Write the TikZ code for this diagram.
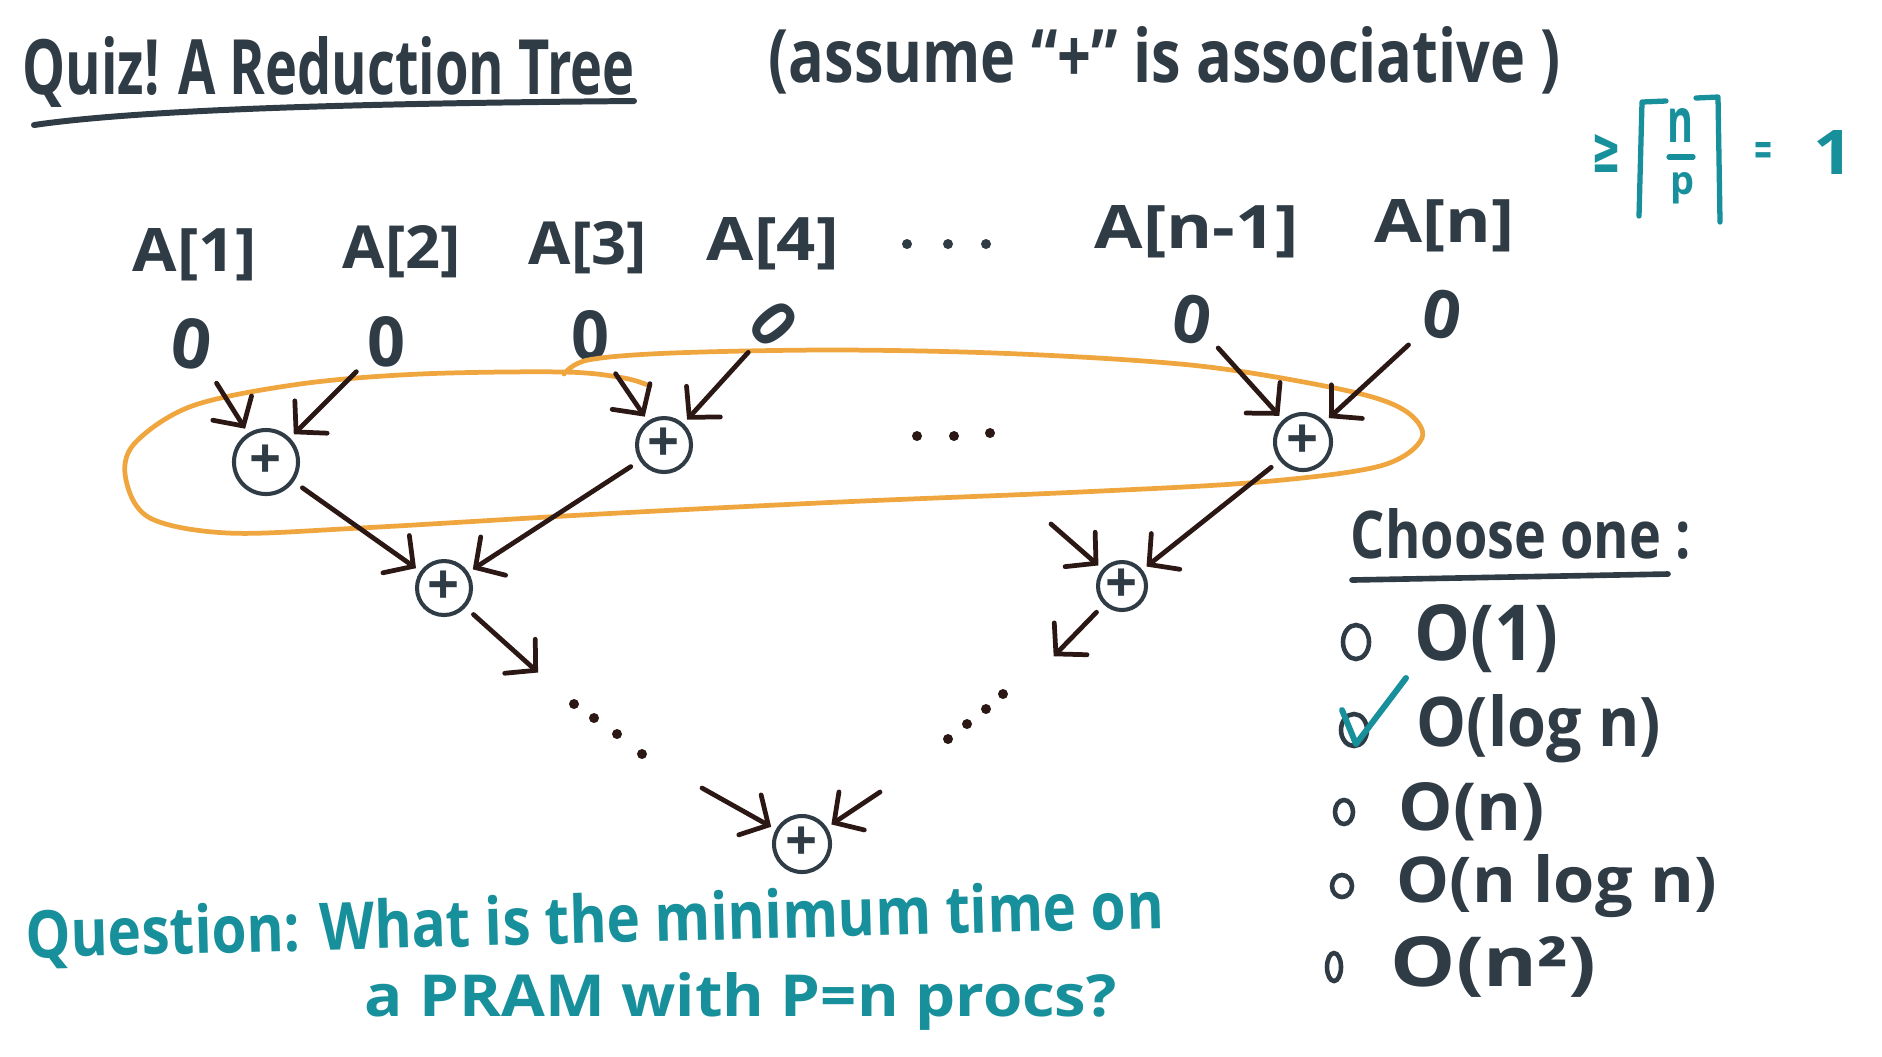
\documentclass[tikz,border=0pt]{standalone}
\usepackage{fontspec}
\setmainfont{Open Sans}
\newfontfamily\djv{DejaVu Sans}
\usepackage{graphicx}
\usetikzlibrary{arrows.meta}
\newlength\px \setlength\px{0.01cm}
\newcommand\hw[3]{\resizebox{#1\px}{#2\px}{#3}}
\definecolor{inkc}{HTML}{2F3B45}
\definecolor{arrc}{HTML}{2B1815}
\definecolor{orng}{HTML}{F0A63E}
\definecolor{tealc}{HTML}{17909C}
\tikzset{
  ink/.style={draw=inkc, line width=1.3pt, line cap=round, line join=round},
  tealline/.style={draw=tealc, line width=1.5pt, line cap=round, line join=round},
  arr/.style={draw=arrc, line width=1.35pt, line cap=round,
    -{Straight Barb[length=6pt,width=13pt,line cap=round]}},
  fromleaf/.style={arr, shorten <=4pt, shorten >=1.5pt},
  fromplus/.style={arr, shorten <=3pt, shorten >=1.5pt},
  txt/.style={inner sep=0pt, anchor=base west, text=inkc, font=\bfseries},
  tealtxt/.style={inner sep=0pt, anchor=base west, text=tealc, font=\bfseries},
  tealsym/.style={inner sep=0pt, anchor=base, text=tealc, font=\bfseries},
  leaf/.style={inner sep=0pt, text=inkc, font=\bfseries},
  plusnode/.style={circle, draw=inkc, line width=1.15pt, inner sep=0pt,
    text=inkc, font=\bfseries\fontsize{16}{16}\selectfont},
  loop/.style={draw=orng, line width=1.35pt, line cap=round},
  bullet/.style={draw=inkc, line width=1.3pt}
}
\begin{document}
\begin{tikzpicture}[x=0.01cm,y=-0.01cm]
\path[use as bounding box, fill=white] (0,0) rectangle (1882,1056);

% title and header
\node[txt] (title) at (22,94) {\hw{612}{58}{Quiz! A Reduction Tree}};
\draw[ink, line width=1.7pt] (34,125) .. controls (150,108) and (400,103) .. (634,101);
\node[txt] (assume) at (768,82) {\hw{792}{56}{(assume “+” is associative )}};

% teal formula
\node[inner sep=0pt, anchor=base, text=tealc, font=\djv\bfseries] (geq) at (1606,172) {\hw{30}{38}{≥}};
\draw[tealline] (1666,101) -- (1642,102) -- (1639,216);
\draw[tealline] (1696,98) -- (1718,97) -- (1720,222);
\node[tealsym] (nn) at (1680,142) {\hw{26}{34}{n}};
\draw[tealline] (1669,157) -- (1693,157);
\node[tealsym] (pp) at (1682,194) {\hw{24}{22}{p}};
\node[inner sep=0pt, anchor=base, text=tealc, font=\djv\bfseries] (eq) at (1763,164) {\hw{20}{22}{=}};
\node[tealsym] (one) at (1833,174) {\hw{40}{44}{1}};

% array labels
\node[txt] (a1) at (132,271) {\hw{124}{43}{A[1]}};
\node[txt] (a2) at (342,268) {\hw{118}{43}{A[2]}};
\node[txt] (a3) at (528,264) {\hw{118}{43}{A[3]}};
\node[txt] (a4) at (706,260) {\hw{132}{43}{A[4]}};
\foreach \x in {907,948,986} \fill[inkc] (\x,244) circle[radius=0.05cm];
\node[txt] (an1) at (1094,248) {\hw{204}{43}{A[n-1]}};
\node[txt] (an) at (1374,242) {\hw{140}{43}{A[n]}};

% leaves
\node[leaf, rotate=-8] (L1) at (192,344) {\hw{40}{50}{0}};
\node[leaf] (L2) at (386,342) {\hw{38}{50}{0}};
\node[leaf] (L3) at (590,336) {\hw{38}{50}{0}};
\node[leaf, rotate=-50] (L4) at (774,324) {\hw{34}{46}{0}};
\node[leaf, rotate=-10] (L5) at (1192,319) {\hw{38}{48}{0}};
\node[leaf, rotate=-10] (L6) at (1442,314) {\hw{38}{48}{0}};

% orange loop
\draw[loop] plot[smooth, tension=0.55] coordinates {
 (650,386) (624,378) (564,372) (420,374) (300,384) (192,406) (134,444)
 (126,480) (150,518) (228,533) (360,528) (600,514) (840,502) (1080,492)
 (1260,482) (1380,466) (1422,438) (1404,410) (1344,390) (1200,366)
 (1020,354) (840,350) (672,353) (588,360) (564,374)};

% plus nodes
\node[plusnode, minimum width=0.58cm, minimum height=0.64cm] (P1) at (266,462) {+};
\node[plusnode, minimum size=0.54cm] (P2) at (664,445) {+};
\node[plusnode, minimum size=0.56cm] (P3) at (1303,442) {+};
\node[plusnode, minimum size=0.54cm] (Q1) at (444,588) {+};
\node[plusnode, minimum size=0.48cm] (Q2) at (1122,586) {+};
\node[plusnode, minimum size=0.56cm] (R) at (802,844) {+};

% middle dots
\foreach \x/\y in {917/436,954/436,990/433} \fill[arrc] (\x,\y) circle[radius=0.05cm];

% free ends
\coordinate (c1) at (1051,524);
\coordinate (c2) at (542,676);
\coordinate (c3) at (1050,660);
\coordinate (c4) at (702,788);
\coordinate (c5) at (880,792);

% arrows
\draw[fromleaf] (L1) -- (P1);
\draw[fromleaf] (L2) -- (P1);
\draw[fromleaf] (L3) -- (P2);
\draw[fromleaf] (L4) -- (P2);
\draw[fromleaf] (L5) -- (P3);
\draw[fromleaf] (L6) -- (P3);
\draw[fromplus] (P1) -- (Q1);
\draw[fromplus] (P2) -- (Q1);
\draw[fromplus] (P3) -- (Q2);
\draw[arr, shorten >=1.5pt] (c1) -- (Q2);
\draw[fromplus] (Q1) -- (c2);
\draw[fromplus] (Q2) -- (c3);
\draw[arr, shorten >=1.5pt] (c4) -- (R);
\draw[arr, shorten >=1.5pt] (c5) -- (R);

% ellipsis dots
\foreach \x/\y in {574/704,594/718,617/734,642/754,1003/694,986/709,967/724,948/739}
  \fill[arrc] (\x,\y) circle[radius=0.05cm];

% choose one
\node[txt] (choose) at (1350,558) {\hw{340}{50}{Choose one :}};
\draw[ink, line width=1.6pt] (1352,580) -- (1668,574);

\draw[bullet] (1356,642) ellipse[x radius=0.13cm, y radius=0.17cm];
\node[txt] (o1) at (1414,660) {\hw{144}{56}{O(1)}};
\draw[bullet] (1354,730) ellipse[x radius=0.13cm, y radius=0.16cm];
\node[txt] (o2) at (1416,746) {\hw{244}{52}{O(log n)}};
\draw[bullet] (1344,812) ellipse[x radius=0.09cm, y radius=0.12cm];
\node[txt] (o3) at (1398,830) {\hw{146}{48}{O(n)}};
\draw[bullet] (1342,886) ellipse[x radius=0.10cm, y radius=0.11cm];
\node[txt] (o4) at (1396,902) {\hw{320}{48}{O(n log n)}};
\draw[bullet] (1334,967) ellipse[x radius=0.07cm, y radius=0.14cm];
\node[txt] (o5) at (1390,986) {\hw{206}{50}{O(n²)}};
\draw[tealline, line width=1.7pt] (1342,710) -- (1356,744) -- (1406,678);

% question
\node[tealtxt, rotate=1.5] (q1) at (26,958) {\hw{1138}{50}{Question: What is the minimum time on}};
\node[tealtxt] (q2) at (364,1016) {\hw{752}{44}{a PRAM with P=n procs?}};
\end{tikzpicture}
\end{document}
